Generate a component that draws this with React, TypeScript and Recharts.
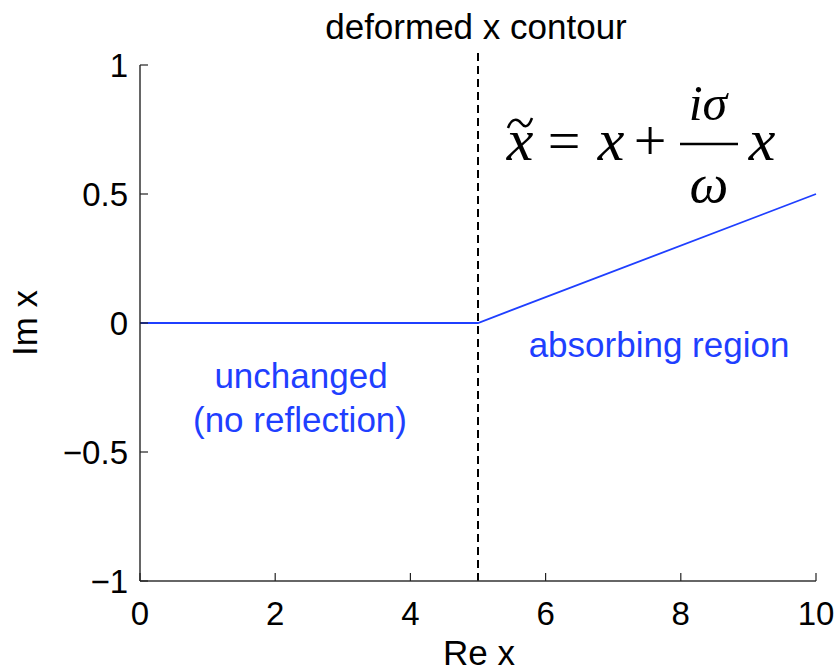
import React from "react";
import { LineChart, Line, XAxis, YAxis, ReferenceLine } from "recharts";

// contour: Re x -> Im x
const reX = [0, 5, 10];
const imX = [0, 0, 0.5];
const xTicks = [0, 2, 4, 6, 8, 10];
const yTicks = [-1, -0.5, 0, 0.5, 1];
const pmlStart = 5;

const W = 836;
const H = 671;
const M = { top: 65, right: 20, bottom: 50, left: 80 };
const X_AXIS_H = 40;
const Y_AXIS_W = 60;
const PLOT_LEFT = M.left + Y_AXIS_W;
const PLOT_RIGHT = W - M.right;
const PLOT_TOP = M.top;
const PLOT_BOTTOM = H - M.bottom - X_AXIS_H;

const BLUE = "#1f3fff";
const SANS = "'Liberation Sans', Arial, Helvetica, sans-serif";
const SERIF = "'Liberation Serif', 'Times New Roman', serif";
const FS_TICK = 33;
const FS = 35;
const TICK = 8;
const TICK_COLOR = "#222";

const data = reX.map((x, i) => ({ x, y: imX[i] }));

const fmt = (v: number) => (v < 0 ? "\u2212" + String(-v) : String(v));

// MATLAB-style ticks: drawn inward from the box
function BottomTick({ x, payload }: any) {
  return (
    <g>
      <line x1={x} x2={x} y1={PLOT_BOTTOM} y2={PLOT_BOTTOM - TICK} stroke={TICK_COLOR} strokeWidth={1.2} />
      <text x={x} y={PLOT_BOTTOM + 44} textAnchor="middle" fontFamily={SANS} fontSize={FS_TICK} fill="#000">
        {fmt(payload.value)}
      </text>
    </g>
  );
}

function TopTick({ x }: any) {
  return <line x1={x} x2={x} y1={PLOT_TOP} y2={PLOT_TOP + TICK} stroke={TICK_COLOR} strokeWidth={1.2} />;
}

function LeftTick({ y, payload }: any) {
  return (
    <g>
      <line x1={PLOT_LEFT} x2={PLOT_LEFT + TICK} y1={y} y2={y} stroke={TICK_COLOR} strokeWidth={1.2} />
      <text x={PLOT_LEFT - 12} y={y + 12} textAnchor="end" fontFamily={SANS} fontSize={FS_TICK} fill="#000">
        {fmt(payload.value)}
      </text>
    </g>
  );
}

function RightTick({ y }: any) {
  return <line x1={PLOT_RIGHT} x2={PLOT_RIGHT - TICK} y1={y} y2={y} stroke={TICK_COLOR} strokeWidth={1.2} />;
}

export default function App() {
  const axisLine = { stroke: "#333", strokeWidth: 1.5 };
  return (
    <div style={{ position: "absolute", left: 0, top: 0, width: W, height: H, background: "#fff" }}>
      <LineChart width={W} height={H} data={data} margin={M}>
        <XAxis
          xAxisId="b"
          dataKey="x"
          type="number"
          domain={[0, 10]}
          ticks={xTicks}
          height={X_AXIS_H}
          tickLine={false}
          axisLine={axisLine}
          tick={<BottomTick />}
          interval={0}
        />
        <XAxis
          xAxisId="t"
          orientation="top"
          dataKey="x"
          type="number"
          domain={[0, 10]}
          ticks={xTicks}
          height={0}
          tickLine={false}
          axisLine={axisLine}
          tick={<TopTick />}
          interval={0}
        />
        <YAxis
          yAxisId="l"
          type="number"
          domain={[-1, 1]}
          ticks={yTicks}
          width={Y_AXIS_W}
          tickLine={false}
          axisLine={axisLine}
          tick={<LeftTick />}
          interval={0}
        />
        <YAxis
          yAxisId="r"
          orientation="right"
          type="number"
          domain={[-1, 1]}
          ticks={yTicks}
          width={0}
          tickLine={false}
          axisLine={axisLine}
          tick={<RightTick />}
          interval={0}
        />
        <ReferenceLine
          xAxisId="b"
          yAxisId="l"
          segment={[
            { x: pmlStart, y: -1 },
            { x: pmlStart, y: 1.06 },
          ]}
          ifOverflow="visible"
          stroke="#000"
          strokeWidth={2}
          strokeDasharray="8 5"
        />
        <Line
          xAxisId="b"
          yAxisId="l"
          dataKey="y"
          type="linear"
          stroke={BLUE}
          strokeWidth={1.8}
          dot={false}
          isAnimationActive={false}
        />
      </LineChart>

      {/* labels and annotations */}
      <svg width={W} height={H} style={{ position: "absolute", left: 0, top: 0, pointerEvents: "none" }}>
        <text x={476} y={39} textAnchor="middle" fontFamily={SANS} fontSize={FS} fill="#000">
          deformed x contour
        </text>
        <text x={479} y={665} textAnchor="middle" fontFamily={SANS} fontSize={FS} fill="#000">
          Re x
        </text>
        <text
          x={0}
          y={0}
          transform="translate(37 323) rotate(-90)"
          textAnchor="middle"
          fontFamily={SANS}
          fontSize={FS}
          fill="#000"
        >
          Im x
        </text>

        <text x={301} y={388} textAnchor="middle" fontFamily={SANS} fontSize={FS} fill={BLUE}>
          unchanged
        </text>
        <text x={300} y={432} textAnchor="middle" fontFamily={SANS} fontSize={FS} fill={BLUE}>
          (no reflection)
        </text>
        <text x={659} y={357} textAnchor="middle" fontFamily={SANS} fontSize={FS} fill={BLUE}>
          absorbing region
        </text>

        {/* x~ = x + (i sigma / omega) x */}
        <g fontFamily={SERIF} fill="#000">
          <text x={520} y={160} textAnchor="middle" fontSize={60} fontStyle="italic">x</text>
          <path d="M508,128 C512,117 518,119 521,123 S528,129 532,118" stroke="#000" strokeWidth={2.5} fill="none" />
          <text x={564} y={160} textAnchor="middle" fontSize={58}>=</text>
          <text x={611} y={160} textAnchor="middle" fontSize={60} fontStyle="italic">x</text>
          <text x={650} y={160} textAnchor="middle" fontSize={58}>+</text>
          <text x={708} y={120} textAnchor="middle" fontSize={50} fontStyle="italic">iσ</text>
          <line x1={680} x2={738} y1={144} y2={144} stroke="#000" strokeWidth={2.5} />
          <text x={709} y={202} textAnchor="middle" fontSize={55} fontStyle="italic">ω</text>
          <text x={762} y={160} textAnchor="middle" fontSize={60} fontStyle="italic">x</text>
        </g>
      </svg>
    </div>
  );
}
